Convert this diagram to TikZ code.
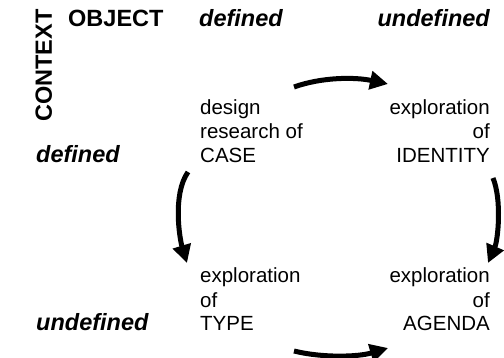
\documentclass[tikz,border=0pt]{standalone}
\usepackage{fontspec}
\setmainfont{Liberation Sans}
\usetikzlibrary{arrows.meta}

\tikzset{
  head/.style={font=\fontsize{23.5}{28}\selectfont\bfseries, inner sep=0pt},
  headit/.style={head, font=\fontsize{23.5}{28}\selectfont\bfseries\itshape},
  cell/.style={font=\fontsize{20.5}{24}\selectfont, inner sep=0pt},
  cycle arrow/.style={line width=5pt, -{Triangle[length=18pt,width=18pt]}}
}

\begin{document}
\begin{tikzpicture}[x=1pt, y=-1pt]
  \useasboundingbox (0,0) rectangle (504,358);

  % axis headings
  \node[head, rotate=90, anchor=base west] (context) at (52,122) {CONTEXT};
  \node[head, anchor=base west] (object) at (68,27) {OBJECT};
  \node[headit, anchor=base west] (objdef) at (199,27) {defined};
  \node[headit, anchor=base east] (objundef) at (490,27) {undefined};
  \node[headit, anchor=base west] (ctxdef) at (36,163) {defined};
  \node[headit, anchor=base west] (ctxundef) at (36,331) {undefined};

  % the four quadrants (base anchor = baseline of the last line)
  \node[cell, align=left, anchor=base west] (case) at (200,163)
    {design\\research of\\CASE};
  \node[cell, align=right, anchor=base east] (identity) at (490,163)
    {exploration\\of\\IDENTITY};
  \node[cell, align=left, anchor=base west] (type) at (200,331)
    {exploration\\of\\TYPE};
  \node[cell, align=right, anchor=base east] (agenda) at (490,331)
    {exploration\\of\\AGENDA};

  % arrow ends around the quadrants
  \coordinate (caseR) at (294,87);
  \coordinate (identityL) at (388,84);
  \coordinate (caseB) at (188,172);
  \coordinate (typeT) at (187,263);
  \coordinate (identityB) at (493,178);
  \coordinate (agendaT) at (488,263);
  \coordinate (typeR) at (294,351);
  \coordinate (agendaL) at (388,348);

  \draw[cycle arrow] (caseR) .. controls (322,77) and (355,77) .. (identityL);
  \draw[cycle arrow] (caseB) .. controls (172,195) and (180,240) .. (typeT);
  \draw[cycle arrow] (identityB) .. controls (502,200) and (498,240) .. (agendaT);
  \draw[cycle arrow] (typeR) .. controls (322,358) and (358,357) .. (agendaL);
\end{tikzpicture}
\end{document}
